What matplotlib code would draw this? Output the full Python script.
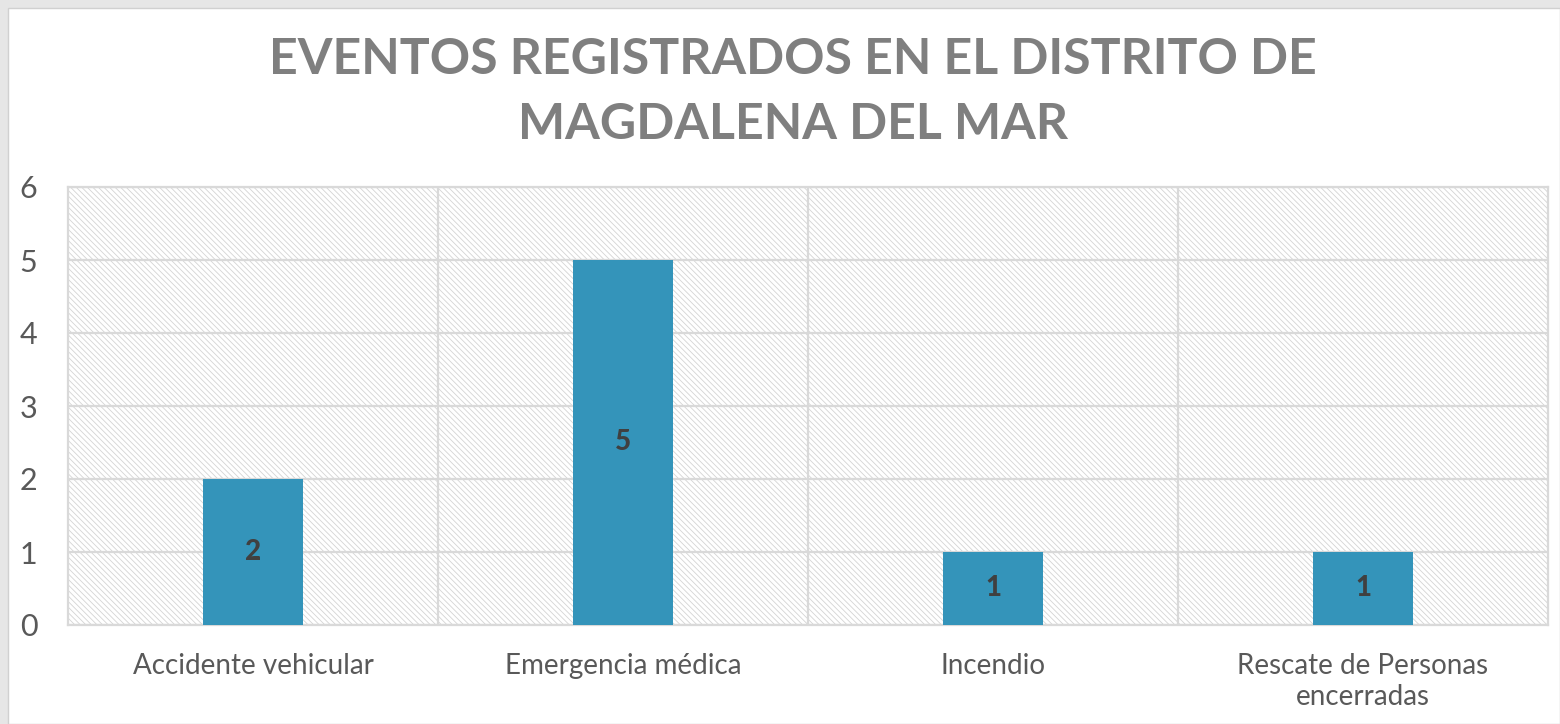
import matplotlib.pyplot as plt
import matplotlib as mpl
from matplotlib.patches import Rectangle

mpl.rcParams['font.family'] = ['Lato', 'DejaVu Sans']
mpl.rcParams['hatch.linewidth'] = 0.6

# Data
categorias = ['Accidente vehicular', 'Emergencia médica', 'Incendio',
              'Rescate de Personas\nencerradas']
eventos = [2, 5, 1, 1]
y_ticks = [0, 1, 2, 3, 4, 5, 6]

fig = plt.figure(figsize=(15.6, 7.24), dpi=100)
fig.patch.set_facecolor('#e6e6e6')
# white card
fig.patches.append(Rectangle((8 / 1560, 0), 1 - 8 / 1560, 1 - 8 / 724,
                             transform=fig.transFigure, facecolor='white',
                             edgecolor='#d0d0d0', linewidth=1, zorder=0))

ax = fig.add_axes([68 / 1560, 1 - 625 / 724, 1480 / 1560, 438 / 724])
ax.set_facecolor('white')
ax.set_zorder(1)

x = range(len(categorias))
ax.set_xlim(-0.5, len(categorias) - 0.5)
ax.set_ylim(0, 6)

# hatched background
ax.add_patch(Rectangle((0, 0), 1, 1, transform=ax.transAxes, facecolor='white',
                       edgecolor='#d4d4d4', hatch='\\\\\\\\\\\\', linewidth=0, zorder=0))

# gridlines
for t in y_ticks:
    ax.axhline(t, color='#d9d9d9', linewidth=1.6, zorder=1)
for b in [0.5, 1.5, 2.5]:
    ax.axvline(b, color='#d9d9d9', linewidth=1.6, zorder=1)

bars = ax.bar(x, eventos, width=0.27, color='#3494ba', zorder=3)
for xi, v in zip(x, eventos):
    ax.text(xi, v / 2, str(v), ha='center', va='center', fontsize=20,
            fontweight='black', color='#404040', zorder=4)

for s in ax.spines.values():
    s.set_color('#d9d9d9')
    s.set_linewidth(1.6)

ax.set_yticks(y_ticks)
ax.set_xticks(list(x))
ax.set_xticklabels(categorias, fontsize=20, color='#595959', linespacing=1.25)
ax.tick_params(axis='y', labelsize=22, labelcolor='#595959', length=0, pad=22)
ax.tick_params(axis='x', length=0, pad=20)

fig.text(793 / 1560, 1 - 92 / 724, 'EVENTOS REGISTRADOS EN EL DISTRITO DE\nMAGDALENA DEL MAR',
         ha='center', va='center', fontsize=36, fontweight='bold', color='#7f7f7f',
         linespacing=1.55)

plt.savefig('out.png', dpi=100, facecolor=fig.get_facecolor())
